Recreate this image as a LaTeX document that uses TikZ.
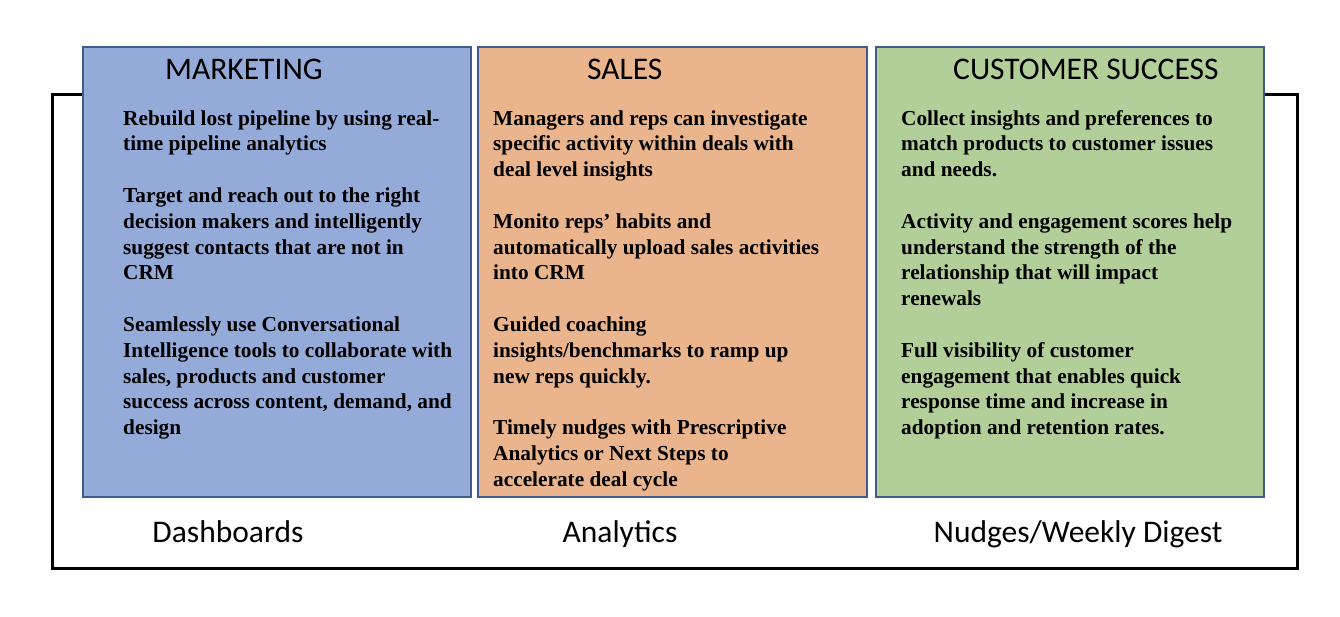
\documentclass[tikz,border=0pt]{standalone}
\usepackage{fontspec}
\setmainfont{Liberation Serif}
\newfontfamily\calib{Carlito}
\definecolor{mkfill}{RGB}{148,170,216}
\definecolor{slfill}{RGB}{234,180,140}
\definecolor{csfill}{RGB}{179,207,153}
\definecolor{edge}{RGB}{63,90,140}
\tikzset{
  panel/.style={draw=edge, line width=2pt, anchor=north west, inner sep=0pt, minimum width=388pt, minimum height=450pt},
  head/.style={anchor=base west, inner sep=0pt, font=\calib\fontsize{31.5}{36}\selectfont},
  body/.style={anchor=base west, inner sep=0pt},
  foot/.style={anchor=base, inner sep=0pt, font=\calib\fontsize{31.5}{36}\selectfont},
  frame/.style={draw=black, line width=3pt}
}
\newcommand{\bodytext}[1]{\parbox[t]{370pt}{\fontsize{21.3}{25.8}\selectfont\bfseries\raggedright #1}}
\begin{document}
\begin{tikzpicture}[x=1pt,y=-1pt]
\useasboundingbox (0,0) rectangle (1340,616);
\coordinate (ftl) at (52,94);
\coordinate (fbl) at (52,568);
\coordinate (fbr) at (1297,568);
\coordinate (ftr) at (1297,94);
\coordinate (fla) at (84,94);
\coordinate (fra) at (1262,94);
\draw[frame] (fla) -- (ftl) -- (fbl) -- (fbr) -- (ftr) -- (fra);

\node[panel, fill=mkfill] (mk) at (82,46) {};
\node[panel, fill=slfill, minimum width=389pt] (sl) at (477,46) {};
\node[panel, fill=csfill] (cs) at (875,46) {};

\node[head] (mkh) at (165,79) {MARKETING};
\node[head] (slh) at (587,79) {SALES};
\node[head] (csh) at (953,79) {CUSTOMER SUCCESS};

\node[body] (mkt) at (123,125) {\bodytext{Rebuild lost pipeline by using real-\\time pipeline analytics\\[25.8pt]
Target and reach out to the right\\decision makers and intelligently\\suggest contacts that are not in\\CRM\\[25.8pt]
Seamlessly use Conversational\\Intelligence tools to collaborate with\\sales, products and customer\\success across content, demand, and\\design}};

\node[body] (slt) at (493,125) {\bodytext{Managers and reps can investigate\\specific activity within deals with\\deal level insights\\[25.8pt]
Monito reps’ habits and\\automatically upload sales activities\\into CRM\\[25.8pt]
Guided coaching\\insights/benchmarks to ramp up\\new reps quickly.\\[25.8pt]
Timely nudges with Prescriptive\\Analytics or Next Steps to\\accelerate deal cycle}};

\node[body] (cst) at (901,125) {\bodytext{Collect insights and preferences to\\match products to customer issues\\and needs.\\[25.8pt]
Activity and engagement scores help\\understand the strength of the\\relationship that will impact\\renewals\\[25.8pt]
Full visibility of customer\\engagement that enables quick\\response time and increase in\\adoption and retention rates.}};

\node[foot] (f1) at (228,542) {Dashboards};
\node[foot] (f2) at (620,542) {Analytics};
\node[foot] (f3) at (1078,542) {Nudges/Weekly Digest};
\end{tikzpicture}
\end{document}
